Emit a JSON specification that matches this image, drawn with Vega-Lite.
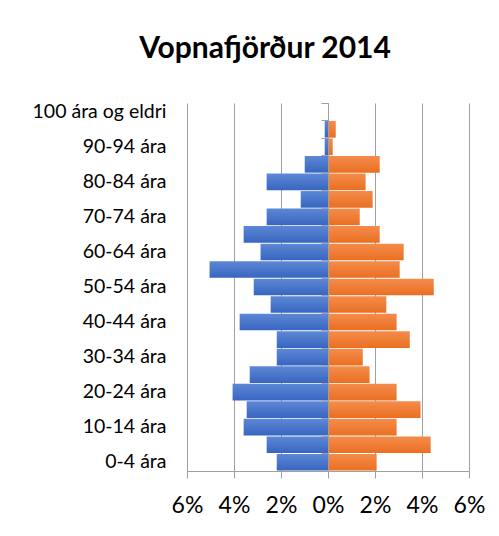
{
  "$schema": "https://vega.github.io/schema/vega-lite/v6.json",
  "width": 282,
  "height": 368,
  "autosize": {"type": "none"},
  "padding": {"left": 187, "top": 103, "right": 30, "bottom": 65},
  "background": "white",
  "title": {
    "text": "Vopnafjörður 2014",
    "font": "Lato",
    "fontSize": 30,
    "fontWeight": "bold",
    "color": "#000000",
    "anchor": "middle",
    "frame": "group",
    "dx": -63,
    "baseline": "alphabetic",
    "offset": 13
  },
  "config": {
    "view": {"stroke": null},
    "axis": {"labelFont": "Lato", "labelColor": "#000000", "titleFont": "Lato"}
  },
  "data": {
    "values": [
      {"age": "0-4 ára", "sex": "Karlar", "value": -2.18},
      {"age": "5-9 ára", "sex": "Karlar", "value": -2.61},
      {"age": "10-14 ára", "sex": "Karlar", "value": -3.59},
      {"age": "15-19 ára", "sex": "Karlar", "value": -3.46},
      {"age": "20-24 ára", "sex": "Karlar", "value": -4.06},
      {"age": "25-29 ára", "sex": "Karlar", "value": -3.33},
      {"age": "30-34 ára", "sex": "Karlar", "value": -2.18},
      {"age": "35-39 ára", "sex": "Karlar", "value": -2.18},
      {"age": "40-44 ára", "sex": "Karlar", "value": -3.76},
      {"age": "45-49 ára", "sex": "Karlar", "value": -2.44},
      {"age": "50-54 ára", "sex": "Karlar", "value": -3.16},
      {"age": "55-59 ára", "sex": "Karlar", "value": -5.04},
      {"age": "60-64 ára", "sex": "Karlar", "value": -2.87},
      {"age": "65-69 ára", "sex": "Karlar", "value": -3.59},
      {"age": "70-74 ára", "sex": "Karlar", "value": -2.61},
      {"age": "75-79 ára", "sex": "Karlar", "value": -1.16},
      {"age": "80-84 ára", "sex": "Karlar", "value": -2.61},
      {"age": "85-89 ára", "sex": "Karlar", "value": -0.99},
      {"age": "90-94 ára", "sex": "Karlar", "value": -0.14},
      {"age": "95-99 ára", "sex": "Karlar", "value": -0.14},
      {"age": "100 ára og eldri", "sex": "Karlar", "value": 0},
      {"age": "0-4 ára", "sex": "Konur", "value": 2.07},
      {"age": "5-9 ára", "sex": "Konur", "value": 4.37},
      {"age": "10-14 ára", "sex": "Konur", "value": 2.92},
      {"age": "15-19 ára", "sex": "Konur", "value": 3.94},
      {"age": "20-24 ára", "sex": "Konur", "value": 2.92},
      {"age": "25-29 ára", "sex": "Konur", "value": 1.77},
      {"age": "30-34 ára", "sex": "Konur", "value": 1.48},
      {"age": "35-39 ára", "sex": "Konur", "value": 3.48},
      {"age": "40-44 ára", "sex": "Konur", "value": 2.92},
      {"age": "45-49 ára", "sex": "Konur", "value": 2.48},
      {"age": "50-54 ára", "sex": "Konur", "value": 4.5},
      {"age": "55-59 ára", "sex": "Konur", "value": 3.05},
      {"age": "60-64 ára", "sex": "Konur", "value": 3.22},
      {"age": "65-69 ára", "sex": "Konur", "value": 2.2},
      {"age": "70-74 ára", "sex": "Konur", "value": 1.35},
      {"age": "75-79 ára", "sex": "Konur", "value": 1.9},
      {"age": "80-84 ára", "sex": "Konur", "value": 1.6},
      {"age": "85-89 ára", "sex": "Konur", "value": 2.2},
      {"age": "90-94 ára", "sex": "Konur", "value": 0.2},
      {"age": "95-99 ára", "sex": "Konur", "value": 0.33},
      {"age": "100 ára og eldri", "sex": "Konur", "value": 0}
    ]
  },
  "resolve": {"axis": {"y": "independent"}},
  "layer": [
    {
      "transform": [{"filter": "datum.sex === 'Karlar'"}],
      "mark": {
        "type": "bar",
        "color": {
          "gradient": "linear", "x1": 0, "y1": 0, "x2": 0, "y2": 1,
          "stops": [{"offset": 0, "color": "#5d88d6"}, {"offset": 1, "color": "#3865c0"}]
        }
      },
      "encoding": {
        "y": {
          "field": "age", "type": "nominal",
          "sort": ["100 ára og eldri", "95-99 ára", "90-94 ára", "85-89 ára", "80-84 ára", "75-79 ára", "70-74 ára", "65-69 ára", "60-64 ára", "55-59 ára", "50-54 ára", "45-49 ára", "40-44 ára", "35-39 ára", "30-34 ára", "25-29 ára", "20-24 ára", "15-19 ára", "10-14 ára", "5-9 ára", "0-4 ára"],
          "scale": {"paddingInner": 0.05, "paddingOuter": 0.025},
          "axis": {
            "orient": "left",
            "title": null,
            "values": ["0-4 ára", "10-14 ára", "20-24 ára", "30-34 ára", "40-44 ára", "50-54 ára", "60-64 ára", "70-74 ára", "80-84 ára", "90-94 ára", "100 ára og eldri"],
            "domain": false,
            "ticks": false,
            "grid": false,
            "labelFontSize": 19.5,
            "labelPadding": 21,
            "labelOverlap": false
          }
        },
        "x": {
          "field": "value", "type": "quantitative",
          "scale": {"domain": [-6, 6], "nice": false},
          "axis": {
            "title": null,
            "values": [-6, -4, -2, 0, 2, 4, 6],
            "labelExpr": "abs(datum.value) + '%'",
            "labelFontSize": 23,
            "labelPadding": 16,
            "labelOverlap": false,
            "labelBound": false,
            "labelFlush": false,
            "tickSize": 7,
            "tickColor": "#a0a0a0",
            "domainColor": "#a0a0a0",
            "gridColor": "#a0a0a0",
            "gridOpacity": 1,
            "grid": true
          }
        }
      }
    },
    {
      "transform": [{"filter": "datum.sex === 'Konur'"}],
      "mark": {
        "type": "bar",
        "color": {
          "gradient": "linear", "x1": 0, "y1": 0, "x2": 0, "y2": 1,
          "stops": [{"offset": 0, "color": "#f48c4c"}, {"offset": 1, "color": "#ea6f22"}]
        }
      },
      "encoding": {
        "y": {
          "field": "age", "type": "nominal",
          "sort": ["100 ára og eldri", "95-99 ára", "90-94 ára", "85-89 ára", "80-84 ára", "75-79 ára", "70-74 ára", "65-69 ára", "60-64 ára", "55-59 ára", "50-54 ára", "45-49 ára", "40-44 ára", "35-39 ára", "30-34 ára", "25-29 ára", "20-24 ára", "15-19 ára", "10-14 ára", "5-9 ára", "0-4 ára"],
          "axis": {
            "orient": "left",
            "title": null,
            "offset": -141,
            "labels": false,
            "grid": false,
            "domain": true,
            "domainColor": "#a0a0a0",
            "ticks": true,
            "tickBand": "extent",
            "tickSize": 7,
            "tickColor": "#a0a0a0",
            "zindex": 1
          }
        },
        "x": {"field": "value", "type": "quantitative"}
      }
    }
  ]
}
